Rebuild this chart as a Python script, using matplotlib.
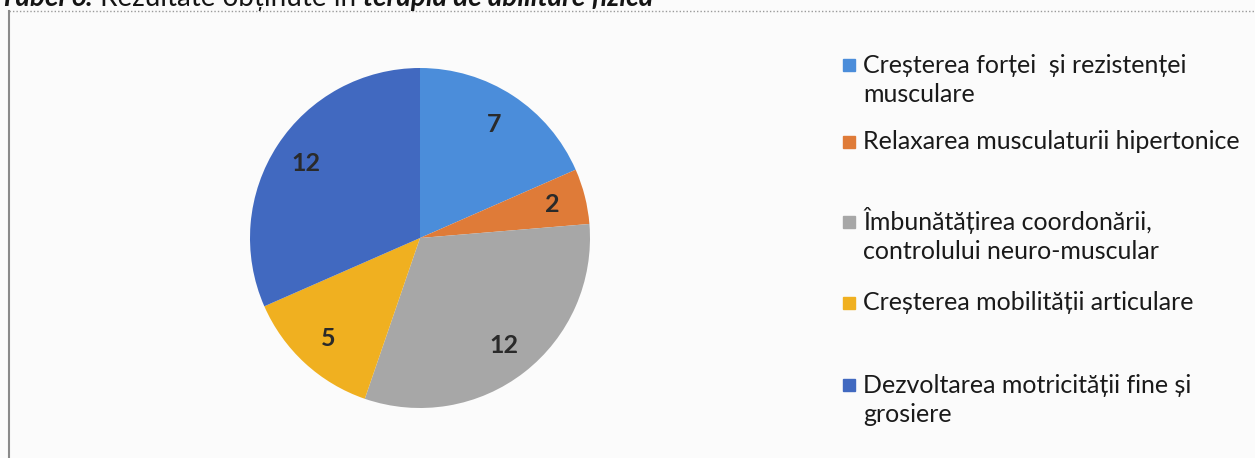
import matplotlib.pyplot as plt
from matplotlib.patches import Rectangle
from matplotlib.lines import Line2D

# data
categories = [
    "Creșterea forței  și rezistenței\nmusculare",
    "Relaxarea musculaturii hipertonice",
    "Îmbunătățirea coordonării,\ncontrolului neuro-muscular",
    "Creșterea mobilității articulare",
    "Dezvoltarea motricității fine și\ngrosiere",
]
values = [7, 2, 12, 5, 12]
colors = ['#4b8dda', '#df7b38', '#a7a7a7', '#f0b020', '#4169c0']

title_parts = [
    ("Tabel 6.", 'bold', 'italic'),
    (" Rezultate obținute în ", 'normal', 'normal'),
    ("terapia de abilitare fizică", 'bold', 'italic'),
]

plt.rcParams['font.family'] = ['Lato', 'DejaVu Sans']

W, H = 1255, 458
fig = plt.figure(figsize=(W / 100, H / 100), dpi=100)
fig.patch.set_facecolor('#fbfbfb')

# pie, centre ~ (420, 238) px, radius ~170 px
R = 170
ax = fig.add_axes([(420 - R) / W, (H - 238 - R) / H, 2 * R / W, 2 * R / H])
wedges, texts = ax.pie(values, colors=colors, startangle=90, counterclock=False,
                       labels=[str(v) for v in values], labeldistance=0.8,
                       textprops=dict(fontsize=18, fontweight='bold', color='#2a2a2a'))
for t in texts:
    t.set_ha('center')
    t.set_va('center')
ax.set_xlim(-1, 1)
ax.set_ylim(-1, 1)
ax.axis('off')

# frame of the chart area (dotted top, grey left edge)
fig.add_artist(Line2D([9 / W, 1], [1 - 11 / H, 1 - 11 / H], transform=fig.transFigure,
                      color='#9a9a9a', lw=1, ls=(0, (1, 1.5))))
fig.add_artist(Line2D([9 / W, 9 / W], [0, 1 - 11 / H], transform=fig.transFigure,
                      color='#8a8a8a', lw=1.5))

# legend drawn by hand to keep the uneven spacing of the original
legend_y = [65, 142, 222, 303, 385]
line_h = 30
for lab, col, y in zip(categories, colors, legend_y):
    fig.add_artist(Rectangle((843 / W, 1 - (y + 6) / H), 12 / W, 12 / H,
                             transform=fig.transFigure, color=col))
    # baseline of a multi-line text is that of its last line
    base = y + 7 + line_h * lab.count('\n')
    fig.text(863 / W, 1 - base / H, lab, fontsize=18, color='#1a1a1a',
             va='baseline', ha='left', linespacing=1.33)

# caption of the table, cut off by the top edge of the scan
fig.canvas.draw()
r = fig.canvas.get_renderer()
x = 0
for txt, w, s in title_parts:
    t = fig.text(x / W, 1 - 6 / H, txt, fontsize=20, fontweight=w, fontstyle=s,
                 color='#151515', va='baseline', ha='left')
    x += t.get_window_extent(r).width

fig.savefig('out.png', dpi=100, facecolor=fig.get_facecolor())
